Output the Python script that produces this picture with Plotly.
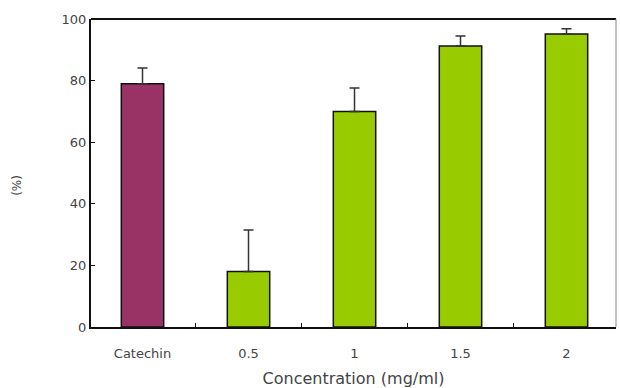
import plotly.graph_objects as go

categories = ["Catechin", "0.5", "1", "1.5", "2"]
values = [79, 18, 70, 91.2, 95.1]
errors = [5.1, 13.5, 7.6, 3.3, 1.7]
colors = ["#993366", "#99CC00", "#99CC00", "#99CC00", "#99CC00"]
y_ticks = [0, 20, 40, 60, 80, 100]

fig = go.Figure(go.Bar(
    x=categories, y=values, width=0.4,
    marker=dict(color=colors, line=dict(color="#111111", width=1.5)),
    error_y=dict(type="data", symmetric=False, array=errors,
                 arrayminus=[0]*len(errors), color="#333333", thickness=1.5, width=5),
))

font = dict(family="DejaVu Sans, sans-serif", size=13, color="#444444")
fig.update_layout(
    width=620, height=388, margin=dict(l=91, r=4, t=19, b=61),
    plot_bgcolor="white", paper_bgcolor="white", font=font, showlegend=False,
    xaxis=dict(showline=True, linecolor="#111111", linewidth=2, ticks="inside",
               tickson="boundaries", ticklen=4, tickcolor="#111111", automargin=False,
               range=[-0.486, 4.467],
               title=dict(text="Concentration (mg/ml)", standoff=15), showgrid=False,
               ticklabelstandoff=13),
    yaxis=dict(range=[0, 100], tickvals=y_ticks, showline=True, linecolor="#111111",
               linewidth=2, ticks="inside", ticklen=4, tickcolor="#111111", automargin=False,
               showgrid=False, zeroline=False, ticklabelstandoff=0),
)
fig.add_shape(type="line", xref="paper", yref="paper", x0=0, x1=1, y0=1, y1=1,
              line=dict(color="#111111", width=2))
fig.add_shape(type="line", xref="paper", yref="paper", x0=1, x1=1, y0=0, y1=1,
              line=dict(color="#888888", width=1))
fig.add_annotation(text="(%)", xref="paper", yref="paper", x=-0.14, y=0.46,
                   textangle=-90, showarrow=False, font=dict(size=12, color="#444444"),
                   xanchor="center", yanchor="middle")
fig.write_html("out.html", post_script="document.body.style.margin='0';",
               config={"displayModeBar": False})
